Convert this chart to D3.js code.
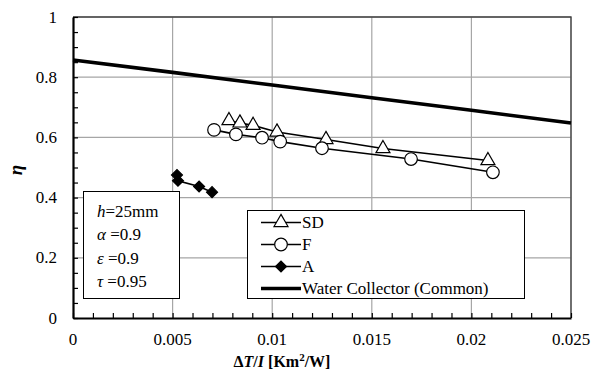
<!DOCTYPE html>
<html>
<head>
<meta charset="utf-8">
<script src="https://cdn.jsdelivr.net/npm/d3@7"></script>
</head>
<body style="margin:0">
<script>
// data
const sdX = [0.00783, 0.00838, 0.00904, 0.01024, 0.0127, 0.01556, 0.02083];
const sdY = [0.656, 0.648, 0.640, 0.618, 0.593, 0.563, 0.523];
const fX = [0.00708, 0.00818, 0.00949, 0.0104, 0.0125, 0.01697, 0.02108];
const fY = [0.625, 0.610, 0.599, 0.586, 0.564, 0.528, 0.484];
const aX = [0.00522, 0.00527, 0.00633, 0.00698];
const aY = [0.475, 0.456, 0.437, 0.418];
const wcX = [0, 0.005, 0.01, 0.015, 0.02, 0.025];
const wcY = [0.857, 0.816, 0.774, 0.732, 0.690, 0.648];
const xTicks = [0, 0.005, 0.01, 0.015, 0.02, 0.025];
const xTickLabels = ["0", "0.005", "0.01", "0.015", "0.02", "0.025"];
const yTicks = [0, 0.2, 0.4, 0.6, 0.8, 1];
const yTickLabels = ["0", "0.2", "0.4", "0.6", "0.8", "1"];
const legendNames = ["SD", "F", "A", "Water Collector (Common)"];

const width = 598, height = 378;
const margin = { left: 73, top: 17, right: 27, bottom: 60 };
const FONT = "'Liberation Serif', monospace";

const svg = d3.select("body").append("svg")
    .attr("width", width)
    .attr("height", height);

const x = d3.scaleLinear().domain([0, 0.025]).range([margin.left, width - margin.right]);
const y = d3.scaleLinear().domain([0, 1]).range([height - margin.bottom, margin.top]);

function label(parent, size) {
  return parent.append("text")
      .attr("font-size", size)
      .style("font-family", FONT);
}

// gridlines
svg.append("g").selectAll("line")
    .data(xTicks.slice(1))
    .enter().append("line")
    .attr("x1", d => x(d)).attr("x2", d => x(d))
    .attr("y1", y(0)).attr("y2", y(1))
    .attr("stroke", "#a6a6a6").attr("stroke-width", 1.2);
svg.append("g").selectAll("line")
    .data(yTicks.slice(1))
    .enter().append("line")
    .attr("x1", x(0)).attr("x2", x(0.025))
    .attr("y1", d => y(d)).attr("y2", d => y(d))
    .attr("stroke", "#a6a6a6").attr("stroke-width", 1.2);

// top / right frame
svg.append("path")
    .attr("d", `M${x(0)},${y(1)}H${x(0.025)}V${y(0)}`)
    .attr("fill", "none").attr("stroke", "#404040").attr("stroke-width", 1.3);

// axes with inward minor ticks
const xAxis = d3.axisBottom(x)
    .tickValues(d3.range(0, 26).map(i => i * 0.001))
    .tickSizeInner(-5).tickSizeOuter(0).tickFormat("");
const gx = svg.append("g").attr("transform", `translate(0,${y(0)})`).call(xAxis);
const yAxis = d3.axisLeft(y)
    .tickValues(d3.range(0, 21).map(i => i * 0.05))
    .tickSizeInner(-5).tickSizeOuter(0).tickFormat("");
const gy = svg.append("g").attr("transform", `translate(${x(0)},0)`).call(yAxis);
[gx, gy].forEach(g => {
  g.select(".domain").attr("stroke", "#000").attr("stroke-width", 2.2);
  g.selectAll(".tick line").attr("stroke", "#000").attr("stroke-width", 1.2);
});

// tick labels
xTicks.forEach((d, i) => {
  label(svg, 17)
      .attr("x", x(d)).attr("y", y(0) + 27)
      .attr("text-anchor", "middle")
      .text(xTickLabels[i]);
});
yTicks.forEach((d, i) => {
  label(svg, 17)
      .attr("x", x(0) - 16).attr("y", y(d) + 5.5)
      .attr("text-anchor", "end")
      .text(yTickLabels[i]);
});

// axis titles
const xt = label(svg, 16)
    .attr("x", 282).attr("y", 367)
    .attr("text-anchor", "middle")
    .attr("font-weight", "bold");
xt.append("tspan").text("Δ");
xt.append("tspan").attr("font-style", "italic").text("T");
xt.append("tspan").text("/");
xt.append("tspan").attr("font-style", "italic").text("I");
xt.append("tspan").text("  [Km");
xt.append("tspan").attr("font-size", 11).attr("dy", -6).text("2");
xt.append("tspan").attr("dy", 6).text("/W]");

label(svg, 19)
    .attr("transform", "translate(22,170) rotate(-90)")
    .attr("text-anchor", "middle")
    .attr("font-weight", "bold").attr("font-style", "italic")
    .text("η");

// series
const zip = (xs, ys) => xs.map((v, i) => [v, ys[i]]);
const line = d3.line().x(d => x(d[0])).y(d => y(d[1]));

svg.append("path").datum(zip(wcX, wcY))
    .attr("d", line).attr("fill", "none")
    .attr("stroke", "#000").attr("stroke-width", 3.6);

const triangle = d3.symbol().type(d3.symbolTriangle).size(85);
const circle = d3.symbol().type(d3.symbolCircle).size(125);
const diamond = d3.symbol().type(d3.symbolSquare).size(60);

function drawSeries(pts, sym, fill, rot) {
  const g = svg.append("g");
  g.append("path").datum(pts)
      .attr("d", line).attr("fill", "none")
      .attr("stroke", "#000").attr("stroke-width", 1.6);
  g.selectAll("path.m")
      .data(pts)
      .enter().append("path")
      .attr("class", "m")
      .attr("d", sym)
      .attr("transform", d => `translate(${x(d[0])},${y(d[1])}) rotate(${rot})`)
      .attr("fill", fill).attr("stroke", "#000").attr("stroke-width", 1.2);
}
drawSeries(zip(sdX, sdY), triangle, "#fff", 0);
drawSeries(zip(fX, fY), circle, "#fff", 0);
drawSeries(zip(aX, aY), diamond, "#000", 45);

// parameter box
svg.append("rect")
    .attr("x", 83.5).attr("y", 191.5).attr("width", 96).attr("height", 107)
    .attr("fill", "#fff").attr("stroke", "#000").attr("stroke-width", 1);
const params = [["h", "=25mm"], ["α", " =0.9"], ["ε", " =0.9"], ["τ", " =0.95"]];
params.forEach((p, i) => {
  const t = label(svg, 17)
      .attr("x", 97).attr("y", 217 + i * 23.3);
  t.append("tspan").attr("font-style", "italic").text(p[0]);
  t.append("tspan").text(p[1]);
});

// legend
svg.append("rect")
    .attr("x", 247.5).attr("y", 210.5).attr("width", 277).attr("height", 88)
    .attr("fill", "#fff").attr("stroke", "#000").attr("stroke-width", 1);
const legendSyms = [triangle, circle, diamond, null];
const legendFill = ["#fff", "#fff", "#000", null];
const legendRot = [0, 0, 45, 0];
legendNames.forEach((name, i) => {
  const yy = 222.5 + i * 22;
  svg.append("line")
      .attr("x1", 261).attr("x2", 301).attr("y1", yy).attr("y2", yy)
      .attr("stroke", "#000").attr("stroke-width", legendSyms[i] ? 1.6 : 3.6);
  if (legendSyms[i]) {
    svg.append("path")
        .attr("d", legendSyms[i])
        .attr("transform", `translate(281,${yy}) rotate(${legendRot[i]})`)
        .attr("fill", legendFill[i]).attr("stroke", "#000").attr("stroke-width", 1.2);
  }
  label(svg, 17)
      .attr("x", 302).attr("y", yy + 5.5)
      .text(name);
});
</script>
</body>
</html>
